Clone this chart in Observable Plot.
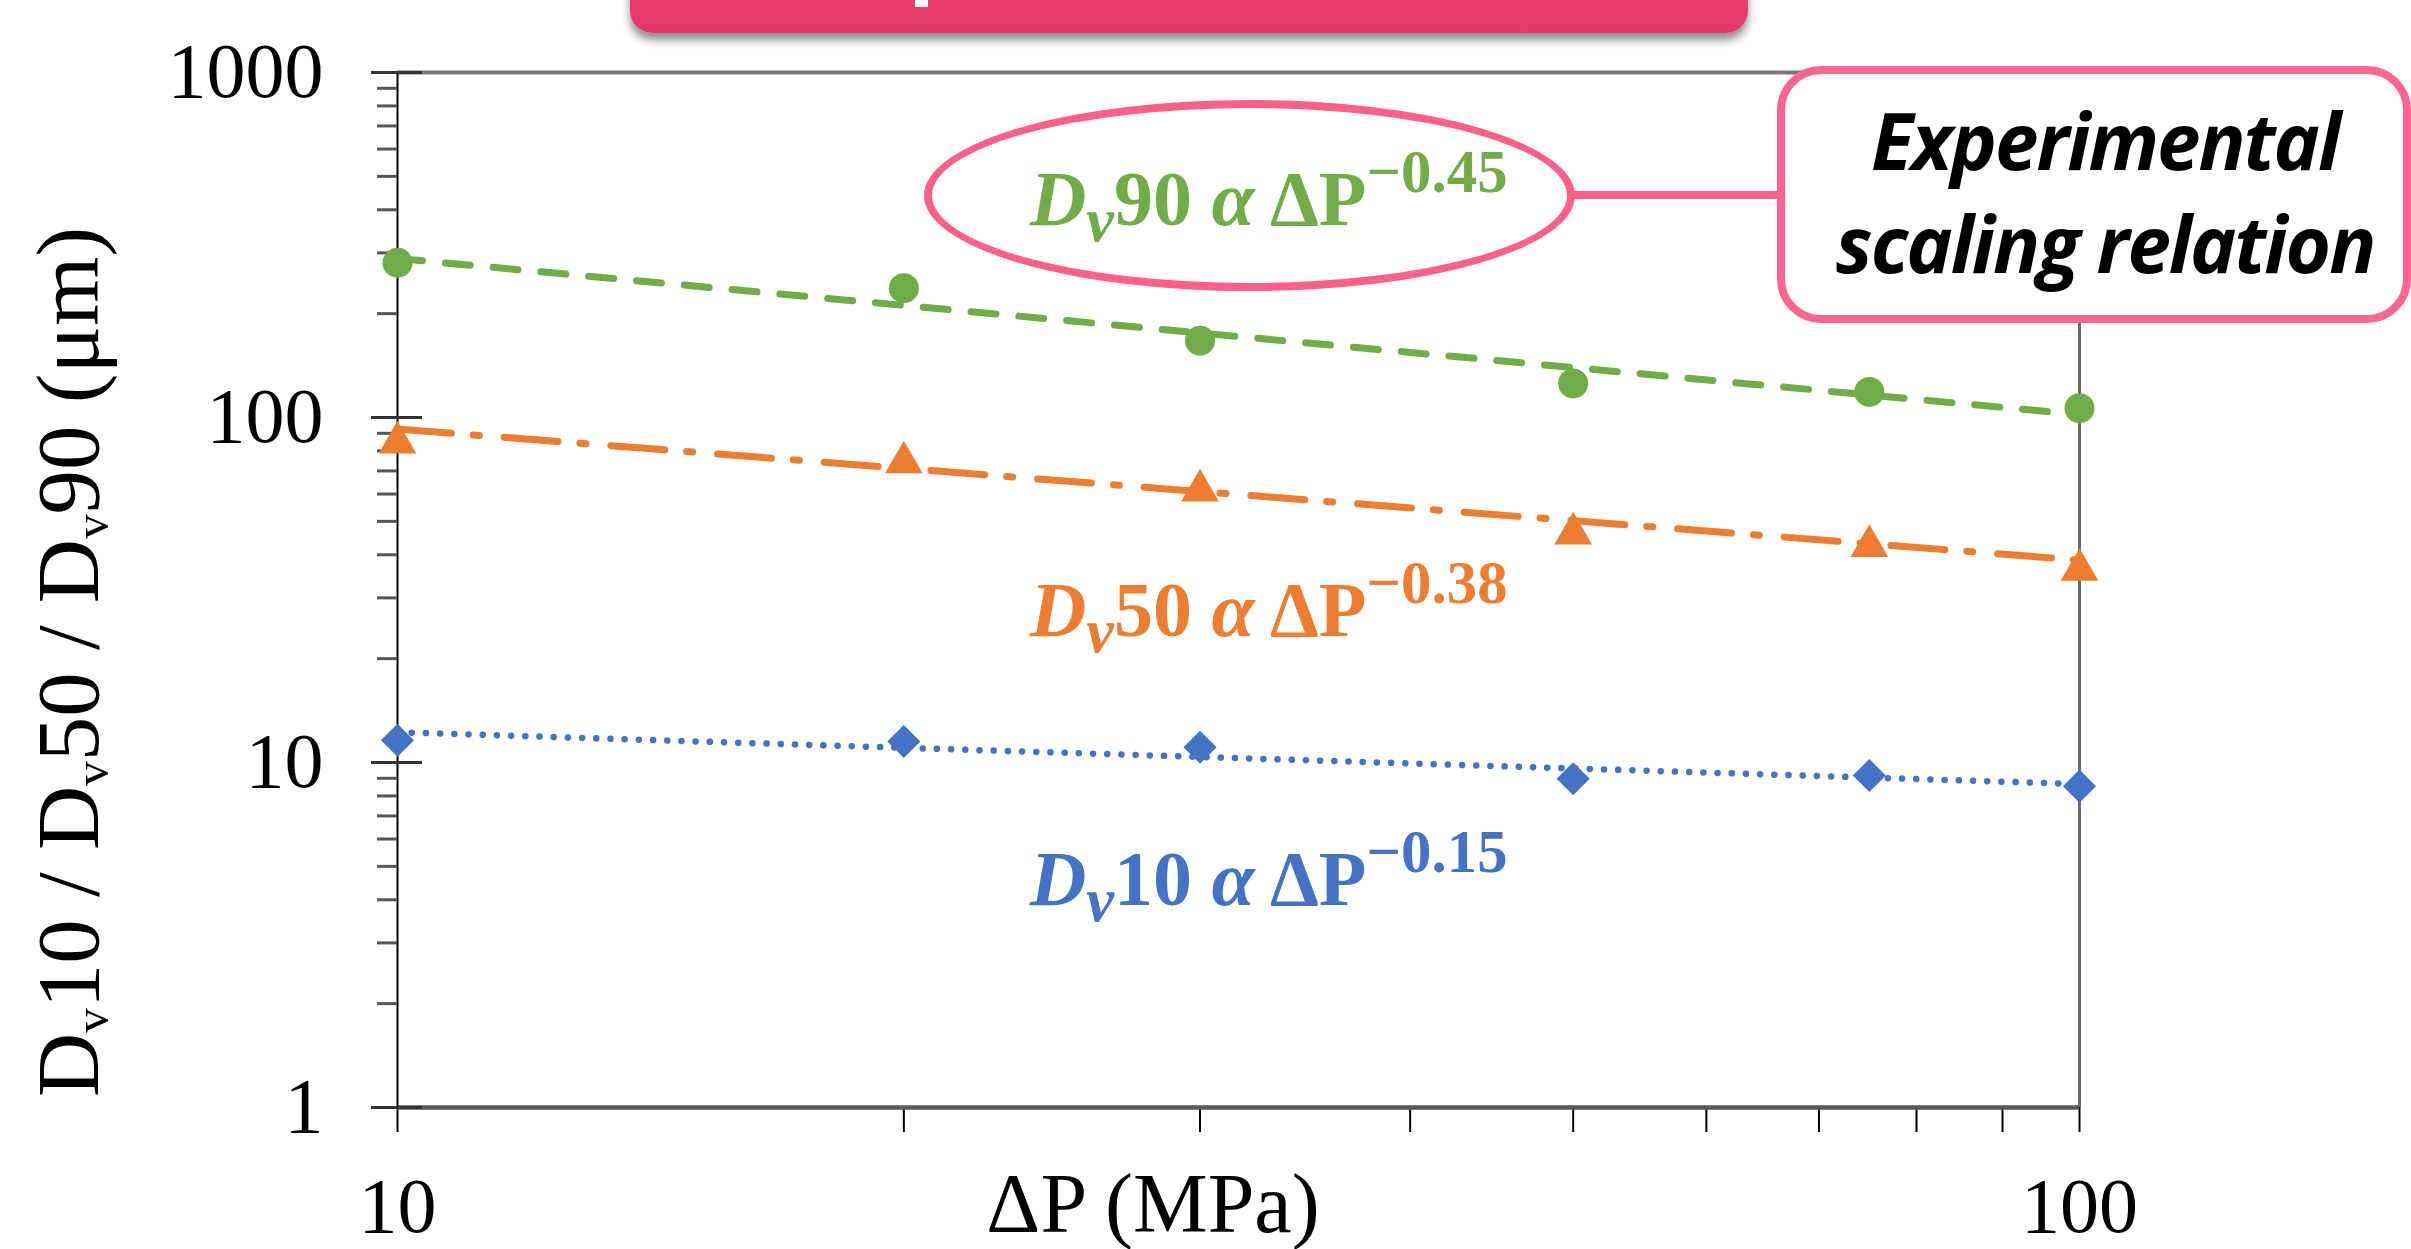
<!DOCTYPE html>
<html>
<head>
<meta charset="utf-8">
<script src="https://cdn.jsdelivr.net/npm/d3@7"></script>
<script src="https://cdn.jsdelivr.net/npm/@observablehq/plot@0.6"></script>
<style>
html, body { margin: 0; padding: 0; background: #fff; }
#wrap { position: relative; width: 2411px; height: 1249px; overflow: hidden; background: #fff; }
#chart svg { display: block; }
.ov { position: absolute; box-sizing: border-box; }
.banner { left: 630px; top: -45px; width: 1118px; height: 78px; border-radius: 22px;
  background: linear-gradient(#F3456F, #E2386A); box-shadow: 0 7px 8px rgba(0,0,0,0.45); }
.bannerbit { left: 915px; top: 0; width: 13px; height: 7px; background: #fff; }
.ellipse { left: 924px; top: 100px; width: 651px; height: 191px; border: 8px solid #FF5F8A; border-radius: 50%; }
.connector { left: 1573px; top: 191px; width: 206px; height: 8px; background: #FF5F8A; }
.callout { left: 1777px; top: 66px; width: 634px; height: 257px; border: 8px solid #FF6590; border-radius: 44px; background: #fff; }
.ctext { position: absolute; transform: translateX(-50%); font-family: 'Open Sans', Lato, sans-serif; font-weight: 700; font-style: italic;
  font-size: 78px; line-height: 1; white-space: nowrap; color: #000; letter-spacing: -2px; }
.ann { position: absolute; font-family: 'Liberation Serif', serif; font-weight: bold; font-size: 78px; line-height: 1; white-space: nowrap; }
.ann sub { font-size: 0.8em; font-style: italic; position: relative; top: 0.26em; vertical-align: baseline; line-height: 0; }
.ann sup { font-size: 0.78em; position: relative; top: -0.55em; vertical-align: baseline; line-height: 0; }
.lab { position: absolute; font-family: 'Liberation Serif', serif; font-size: 84px; line-height: 1; white-space: nowrap; color: #000; }
.lab sub { font-size: 0.55em; position: relative; top: 0.2em; vertical-align: baseline; line-height: 0; }
</style>
</head>
<body>
<div id="wrap">
  <div id="chart"></div>
  <div class="ov banner"></div>
  <div class="ov bannerbit"></div>
  <div class="ov ellipse"></div>
  <div class="ov connector"></div>
  <div class="ov callout"></div>
  <div class="ctext" style="left:2105px; top:101px;">Experimental</div>
  <div class="ctext" style="left:2105px; top:204px;">scaling relation</div>
  <div class="ann" style="left:1030px; top:160px; color:#70AD47;"><i>D</i><sub>v</sub>90 <i>α</i> ΔP<sup>−0.45</sup></div>
  <div class="ann" style="left:1030px; top:571px; color:#ED7D31;"><i>D</i><sub>v</sub>50 <i>α</i> ΔP<sup>−0.38</sup></div>
  <div class="ann" style="left:1030px; top:840px; color:#4472C4;"><i>D</i><sub>v</sub>10 <i>α</i> ΔP<sup>−0.15</sup></div>
  <div class="lab" style="left:68px; top:662px; font-size:89px; transform: translate(-50%,-50%) rotate(-90deg);">D<sub>v</sub>10 / D<sub>v</sub>50 / D<sub>v</sub>90 (μm)</div>
  <div class="lab" style="left:1153px; top:1162px; transform: translateX(-50%);">ΔP (MPa)</div>
</div>
<script>
// ---- data ----
const pressure = [10, 20, 30, 50, 75, 100];          // ΔP (MPa)
const dv90 = [281, 237, 167, 125.5, 118.6, 106.4];     // µm
const dv50 = [84.6, 74.1, 61.4, 46.1, 42.4, 36.2];     // µm
const dv10 = [11.6, 11.5, 11.07, 8.97, 9.17, 8.54];    // µm

// power-law trend lines (end points)
const fitPressure = [10, 100];
const fit90 = [289, 102];
const fit50 = [92.6, 38.6];
const fit10 = [12.24, 8.66];

// axis ticks
const yMajor = [1, 10, 100, 1000];
const yMinor = [2, 3, 4, 5, 6, 7, 8, 9, 20, 30, 40, 50, 60, 70, 80, 90, 200, 300, 400, 500, 600, 700, 800, 900];
const xTicks = [10, 20, 30, 40, 50, 60, 70, 80, 90, 100];
const xLabels = [10, 100];

const GREEN = "#70AD47", ORANGE = "#ED7D31", BLUE = "#4472C4";

const toRows = (xs, ys) => xs.map((x, i) => ({x, y: ys[i]}));

const diamond = {
  draw(context, size) {
    const h = Math.sqrt(size / 2);
    context.moveTo(0, -h);
    context.lineTo(h, 0);
    context.lineTo(0, h);
    context.lineTo(-h, 0);
    context.closePath();
  }
};

const plot = Plot.plot({
  width: 2411,
  height: 1249,
  marginTop: 72,
  marginRight: 332,
  marginBottom: 142,
  marginLeft: 397,
  x: {type: "log", domain: [10, 100]},
  y: {type: "log", domain: [1, 1000]},
  style: {fontFamily: "'Liberation Serif', serif", fontSize: "78px", color: "#000", background: "transparent", overflow: "visible"},
  marks: [
    // frame
    Plot.ruleY([1000], {stroke: "#777", strokeWidth: 4}),
    Plot.ruleX([100], {stroke: "#6a6a6a", strokeWidth: 3}),
    // x axis ticks and labels
    Plot.axisX(xTicks, {tickSize: 25, fill: "none", stroke: "#000", strokeWidth: 2, label: null}),
    Plot.axisX(xLabels, {tickSize: 0, tickPadding: 69, label: null, tickFormat: d => String(d)}),
    Plot.ruleY([1], {stroke: "#5a5a5a", strokeWidth: 4.5}),
    // y axis
    Plot.ruleX([10], {stroke: "#000", strokeWidth: 2}),
    Plot.axisY(yMinor, {tickSize: 20, fill: "none", stroke: "#555", strokeWidth: 3, label: null}),
    Plot.axisY(yMajor, {tickSize: -25, fill: "none", stroke: "#333", strokeWidth: 3, label: null}),
    Plot.axisY(yMajor, {tickSize: 26, tickPadding: 48, stroke: "#333", strokeWidth: 3, label: null, tickFormat: d => String(d)}),
    // trend lines
    Plot.line(toRows(fitPressure, fit90), {x: "x", y: "y", stroke: GREEN, strokeWidth: 7, strokeDasharray: "25,23"}),
    Plot.line(toRows(fitPressure, fit50), {x: "x", y: "y", stroke: ORANGE, strokeWidth: 7, strokeDasharray: "54,22,6,25"}),
    Plot.line(toRows(fitPressure, fit10), {x: "x", y: "y", stroke: BLUE, strokeWidth: 6.5, strokeDasharray: "0.1,14.1", strokeLinecap: "round"}),
    // measured points
    Plot.dot(toRows(pressure, dv90), {x: "x", y: "y", r: 15, fill: GREEN, symbol: "circle"}),
    Plot.dot(toRows(pressure, dv50), {x: "x", y: "y", r: 14, fill: ORANGE, symbol: "triangle"}),
    Plot.dot(toRows(pressure, dv10), {x: "x", y: "y", r: 13.2, fill: BLUE, symbol: diamond})
  ]
});
document.getElementById("chart").appendChild(plot);
</script>
</body>
</html>
